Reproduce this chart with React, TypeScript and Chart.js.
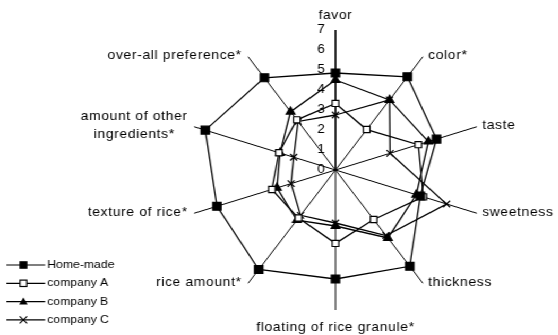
import React, { useEffect, useRef } from 'react';
import { Chart, registerables } from 'chart.js';

Chart.register(...registerables);

// ---- data ----
const categories: (string | string[])[] = [
  'favor',
  'color*',
  'taste',
  'sweetness',
  'thickness',
  'floating of rice granule*',
  'rice amount*',
  'texture of rice*',
  ['amount of other', 'ingredients*'],
  'over-all preference*',
];
const seriesNames = ['Home-made', 'company A', 'company B', 'company C'];
const homeMade = [4.85, 5.76, 5.0, 4.2, 5.95, 5.45, 6.15, 5.87, 6.45, 5.7];
const companyA = [3.33, 2.5, 4.1, 4.35, 3.06, 3.67, 2.97, 3.15, 2.8, 3.1];
const companyB = [4.5, 4.33, 4.6, 4.0, 4.2, 2.8, 3.1, 2.9, 2.75, 3.6];
const companyC = [2.75, 4.33, 2.7, 5.5, 4.05, 2.65, 2.8, 2.2, 2.07, 3.0];
const tickValues = [0, 1, 2, 3, 4, 5, 6, 7];

// ---- layout / style ----
const SX = 335.5 / 316;
const W = 526;
const H = 335;
const FONT = '"Liberation Sans", Arial, Helvetica, sans-serif';

const seriesStyles = [
  { pointStyle: 'rect', radius: 5.6, fill: '#000' },
  { pointStyle: 'rect', radius: 4.4, fill: '#fff' },
  { pointStyle: 'triangle', radius: 4.7, fill: '#000' },
  { pointStyle: 'crossRot', radius: 4.6, fill: '#000' },
];

function drawMarker(ctx: CanvasRenderingContext2D, kind: number, x: number, y: number) {
  ctx.save();
  ctx.strokeStyle = '#000';
  ctx.fillStyle = '#000';
  ctx.lineWidth = 1.2;
  if (kind === 0) {
    ctx.fillRect(x - 3.8, y - 3.8, 7.6, 7.6);
  } else if (kind === 1) {
    ctx.fillStyle = '#fff';
    ctx.fillRect(x - 3.2, y - 3.2, 6.4, 6.4);
    ctx.strokeRect(x - 3.2, y - 3.2, 6.4, 6.4);
  } else if (kind === 2) {
    ctx.beginPath();
    ctx.moveTo(x, y - 4);
    ctx.lineTo(x + 4, y + 3);
    ctx.lineTo(x - 4, y + 3);
    ctx.closePath();
    ctx.fill();
  } else {
    ctx.beginPath();
    ctx.moveTo(x - 3.5, y - 3.5);
    ctx.lineTo(x + 3.5, y + 3.5);
    ctx.moveTo(x + 3.5, y - 3.5);
    ctx.lineTo(x - 3.5, y + 3.5);
    ctx.stroke();
  }
  ctx.restore();
}

const decorPlugin = {
  id: 'decor',
  afterDraw(chart: any) {
    const ctx: CanvasRenderingContext2D = chart.ctx;
    const s: any = chart.scales.r;
    const n = categories.length;
    ctx.save();
    ctx.fillStyle = '#000';
    ctx.textBaseline = 'middle';

    // category labels
    ctx.font = `13px ${FONT}`;
    (ctx as any).letterSpacing = '0.65px';
    categories.forEach((lab, i) => {
      const p = s.getPointPosition(i, s.drawingArea);
      const lines = Array.isArray(lab) ? lab : [lab];
      const ang = (i / n) * 2 * Math.PI;
      const sn = Math.sin(ang);
      let x = p.x;
      let y = p.y;
      let align: CanvasTextAlign = 'center';
      if (Math.abs(sn) < 0.01) {
        y += Math.cos(ang) > 0 ? -15 : 17;
      } else if (sn > 0) {
        align = 'left';
        x += 5;
        y -= 1;
      } else {
        align = 'right';
        x -= 6;
        y -= 1;
      }
      if (lines.length > 1) {
        const mw = Math.max(...lines.map((l) => ctx.measureText(l).width));
        const cx = align === 'right' ? x - mw / 2 : align === 'left' ? x + mw / 2 : x;
        ctx.textAlign = 'center';
        lines.forEach((l, k) => ctx.fillText(l, cx, y + (k - (lines.length - 1) / 2) * 18.3));
      } else {
        ctx.textAlign = align;
        ctx.fillText(lines[0], x, y);
      }
    });

    // tick labels
    (ctx as any).letterSpacing = '0px';
    ctx.font = `13px ${FONT}`;
    ctx.textAlign = 'right';
    tickValues.forEach((v) => {
      const y = s.yCenter - s.getDistanceFromCenterForValue(v) - 1;
      ctx.fillText(String(v), s.xCenter - 10, y);
    });

    // legend
    ctx.font = `11.5px ${FONT}`;
    ctx.textAlign = 'left';
    seriesNames.forEach((name, k) => {
      const y = 265 + k * 18.3;
      ctx.beginPath();
      ctx.strokeStyle = '#000';
      ctx.lineWidth = 1.2;
      ctx.moveTo(6, y);
      ctx.lineTo(42.5, y);
      ctx.stroke();
      drawMarker(ctx, k, 22, y);
      ctx.fillText(name, 44.5, y);
    });
    ctx.restore();
  },
};

export default function App() {
  const ref = useRef<HTMLCanvasElement | null>(null);

  useEffect(() => {
    if (!ref.current) return;
    const seriesData = [homeMade, companyA, companyB, companyC];
    const chart = new Chart(ref.current, {
      type: 'radar',
      data: {
        labels: categories as any,
        datasets: seriesNames.map((name, k) => ({
          label: name,
          data: seriesData[k],
          borderColor: '#000',
          borderWidth: 1.3,
          fill: false,
          tension: 0,
          pointStyle: seriesStyles[k].pointStyle as any,
          pointRadius: seriesStyles[k].radius,
          pointBackgroundColor: seriesStyles[k].fill,
          pointBorderColor: '#000',
          pointBorderWidth: 1.2,
        })),
      },
      options: {
        animation: false,
        responsive: false,
        devicePixelRatio: 1,
        layout: { padding: { left: 176, right: 70, top: 30, bottom: 25 } },
        plugins: {
          legend: { display: false },
          tooltip: { enabled: false },
        },
        scales: {
          r: {
            min: 0,
            max: 7,
            beginAtZero: true,
            grid: { display: false },
            angleLines: {
              display: true,
              color: '#000',
              lineWidth: (c: any) => (c.index === 0 ? 1.7 : 1.0),
            },
            ticks: { display: false, stepSize: 1 },
            pointLabels: { display: false },
          },
        },
      },
      plugins: [decorPlugin],
    });
    return () => chart.destroy();
  }, []);

  return (
    <div
      style={{
        position: 'fixed',
        left: 0,
        top: 0,
        width: W,
        height: H,
        transform: `scaleX(${SX})`,
        transformOrigin: '0 0',
        background: '#fff',
      }}
    >
      <canvas ref={ref} width={W} height={H} style={{ display: 'block' }} />
    </div>
  );
}
